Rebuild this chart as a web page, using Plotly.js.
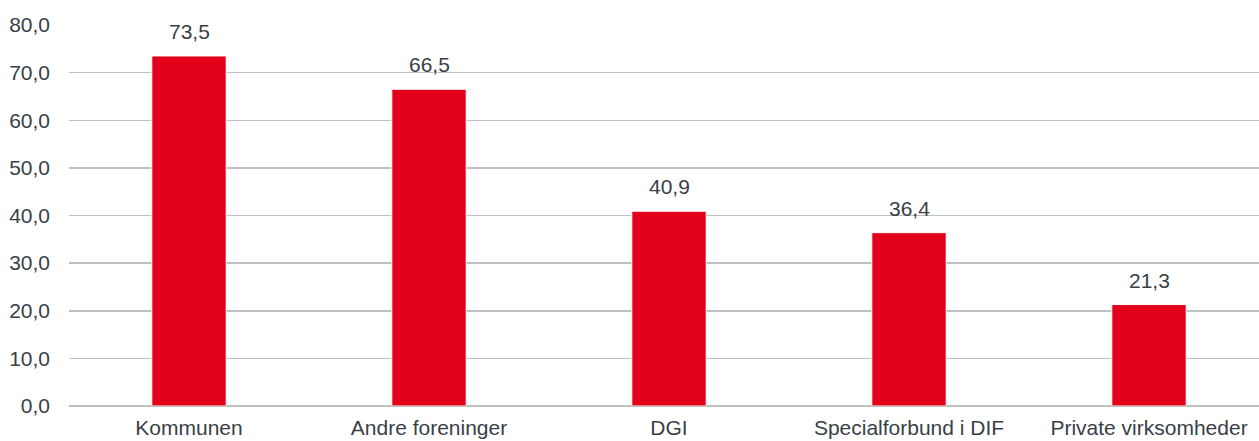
<!DOCTYPE html>
<html>
<head>
<meta charset="utf-8">
<script src="https://cdn.plot.ly/plotly-3.0.1.min.js"></script>
<style>html,body{margin:0;padding:0;background:#fff;}#chart{width:1259px;height:441px;}</style>
</head>
<body>
<div id="chart"></div>
<script>
const categories = ["Kommunen", "Andre foreninger", "DGI", "Specialforbund i DIF", "Private virksomheder"];
const values = [73.5, 66.5, 40.9, 36.4, 21.3];
const yTicks = [0, 10, 20, 30, 40, 50, 60, 70, 80];

const fmt = v => v.toFixed(1).replace('.', ',');
const textColor = '#3a3f47';
const font = {family: 'Liberation Sans, Arial, sans-serif', size: 21, color: textColor};

const trace = {
  type: 'bar',
  x: categories.map((c, i) => i),
  y: values,
  width: 0.31,
  marker: {color: '#E2001A', line: {color: '#ffffff', width: 1}},
  hoverinfo: 'none'
};

const annotations = values.map((v, i) => ({
  x: i, y: v, xref: 'x', yref: 'y',
  text: fmt(v), showarrow: false,
  yanchor: 'bottom', yshift: 11,
  font: font
}));

const layout = {
  width: 1259, height: 441,
  margin: {l: 69, r: 0, t: 25, b: 35},
  paper_bgcolor: '#ffffff', plot_bgcolor: '#ffffff',
  font: font,
  showlegend: false,
  bargap: 0,
  xaxis: {
    range: [-0.5, 4.5 - 10/240],
    tickvals: categories.map((c, i) => i),
    ticktext: categories,
    showgrid: false, zeroline: false, showline: false,
    ticks: '', ticklabelstandoff: 7,
    tickfont: font, fixedrange: true
  },
  yaxis: {
    range: [0, 80],
    tickvals: yTicks,
    ticktext: yTicks.map(fmt),
    showgrid: true, gridcolor: '#c0c0c0', gridwidth: 1.5,
    zeroline: true, zerolinecolor: '#c0c0c0', zerolinewidth: 1.5,
    showline: false, ticks: '', ticklabelstandoff: 18,
    tickfont: font, fixedrange: true
  },
  annotations: annotations
};

Plotly.newPlot('chart', [trace], layout, {displayModeBar: false, staticPlot: true});
</script>
</body>
</html>
